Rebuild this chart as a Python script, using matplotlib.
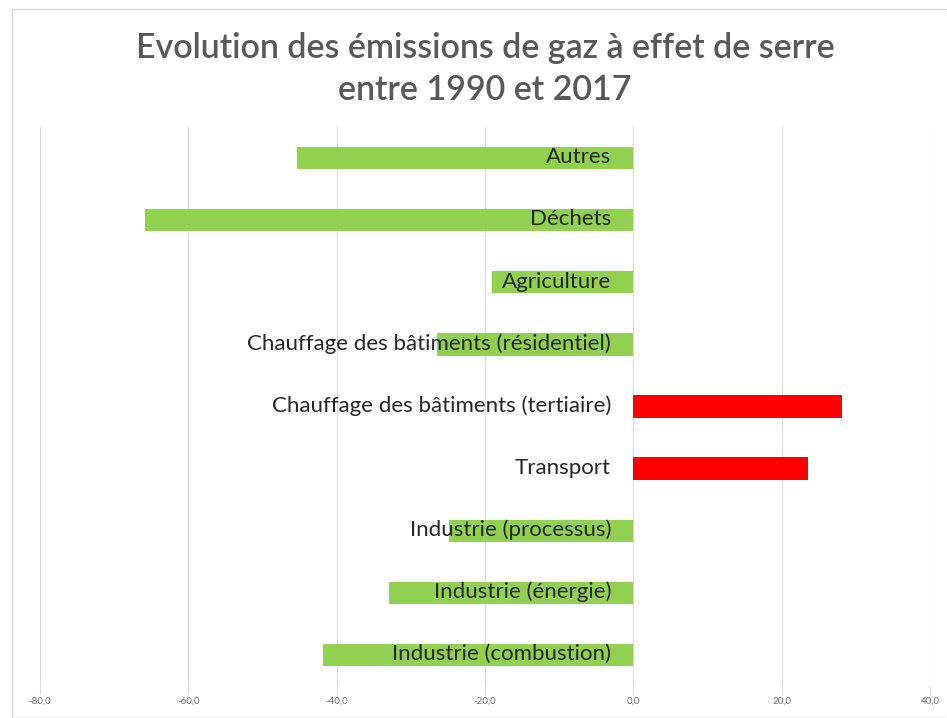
import matplotlib.pyplot as plt
from matplotlib.patches import Rectangle
from matplotlib.ticker import FuncFormatter

plt.rcParams['font.family'] = ['Lato', 'DejaVu Sans']

secteurs = ['Industrie (combustion)', 'Industrie (énergie)', 'Industrie (processus)',
            'Transport', 'Chauffage des bâtiments (tertiaire)',
            'Chauffage des bâtiments (résidentiel)', 'Agriculture', 'Déchets', 'Autres']
evolution = [-41.9, -32.9, -24.9, 23.6, 28.2, -26.5, -19.1, -65.8, -45.3]

couleurs = ['#FF0000' if v > 0 else '#92D050' for v in evolution]

fig = plt.figure(figsize=(9.47, 7.18), dpi=100)
ax = fig.add_axes([40 / 947, 32 / 718, 890 / 947, 559 / 718])

pos = list(range(len(secteurs)))
ax.barh(pos, evolution, height=0.36, color=couleurs, zorder=2)

for p, nom in zip(pos, secteurs):
    ax.annotate(nom, xy=(0, p), xytext=(-16, 0.5), textcoords='offset points',
                ha='right', va='center', fontsize=16, color='#262626', zorder=3)

ax.set_xlim(-80, 40)
ax.set_ylim(-0.5, len(secteurs) - 0.5)
ax.set_xticks(range(-80, 41, 20))
ax.xaxis.set_major_formatter(FuncFormatter(lambda v, _: f'{v:.1f}'.replace('.', ',')))
ax.tick_params(axis='x', labelsize=7, colors='#d9d9d9', labelcolor='#707070', length=6, pad=2)
ax.set_yticks([])
ax.grid(axis='x', color='#d9d9d9', linewidth=0.8, zorder=0)
for s in ax.spines.values():
    s.set_visible(False)

# titre sur deux lignes, légèrement décalé à droite comme dans l'original
fig.text(485 / 947, 1 - 48 / 718, 'Evolution des émissions de gaz à effet de serre',
         ha='center', va='center', fontsize=24.5, color='#595959', fontweight='semibold')
fig.text(485 / 947, 1 - 90 / 718, 'entre 1990 et 2017',
         ha='center', va='center', fontsize=24.5, color='#595959', fontweight='semibold')

fig.patches.append(Rectangle((12 / 947, 0.0), 1 - 12 / 947, 1 - 9 / 718,
                             transform=fig.transFigure, fill=False,
                             edgecolor='#d9d9d9', linewidth=1))

plt.savefig('out.png', dpi=100)
